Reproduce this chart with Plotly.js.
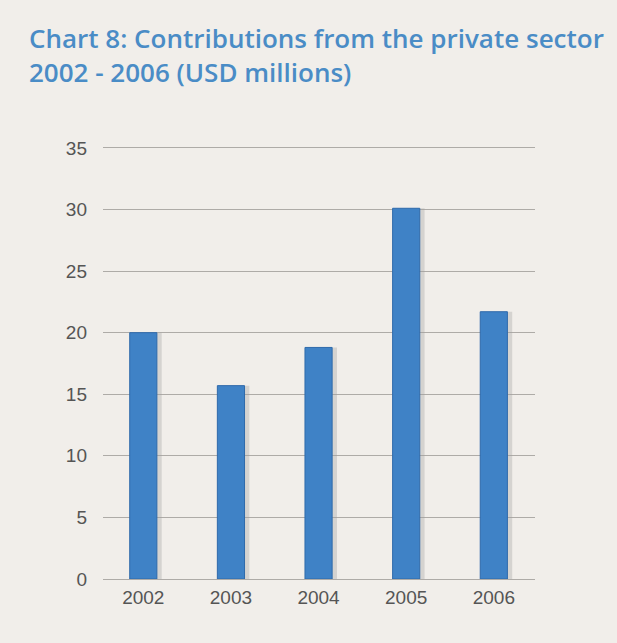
<!DOCTYPE html>
<html><head><meta charset="utf-8">
<script src="https://cdn.plot.ly/plotly-3.0.1.min.js"></script>
<style>html,body{margin:0;padding:0;background:#f1eeea;}#chart{width:617px;height:643px;}</style>
</head><body><div id="chart"></div>
<script>
const years = ['2002','2003','2004','2005','2006'];
const contributions = [20.0, 15.7, 18.8, 30.1, 21.7];
const yTicks = [0,5,10,15,20,25,30,35];
const titleText = 'Chart 8: Contributions from the private sector<br>2002 - 2006 (USD millions)';

const traces = [
  {type:'bar', x: years, y: contributions, width: 0.36, offset: -0.15,
   marker:{color:'rgba(160,160,160,0.35)'}, hoverinfo:'skip', showlegend:false},
  {type:'bar', x: years, y: contributions, width: 0.31,
   marker:{color:'#3f82c6', line:{color:'#2f6aab', width:1}}, showlegend:false}
];
const layout = {
  width:617, height:643,
  paper_bgcolor:'#f1eeea', plot_bgcolor:'rgba(0,0,0,0)',
  margin:{l:103, r:82, t:143, b:64},
  barmode:'overlay',
  annotations: [{
    text: titleText, xref:'paper', yref:'paper', x:-0.176, xanchor:'left', align:'left',
    y: 1.286, yanchor:'top', showarrow:false,
    font:{family:'Open Sans, sans-serif', size:26, color:'#4a8cc6', weight:600}
  }],
  xaxis:{type:'category', range:[-0.46,4.47], showgrid:false, zeroline:false, showline:false,
    ticks:'', tickfont:{family:'Liberation Sans, Arial', size:19, color:'#555'}, ticklabelstandoff:5},
  yaxis:{range:[0,35.4], tickvals:yTicks, ticktext:yTicks.map(String), showgrid:true, gridcolor:'#aeaba7', gridwidth:1,
    zeroline:true, zerolinecolor:'#aeaba7', zerolinewidth:1, showline:false, ticks:'',
    tickfont:{family:'Liberation Sans, Arial', size:19, color:'#555'}, ticklabelstandoff:15}
};
Plotly.newPlot('chart', traces, layout, {displayModeBar:false, staticPlot:true});
</script></body></html>
